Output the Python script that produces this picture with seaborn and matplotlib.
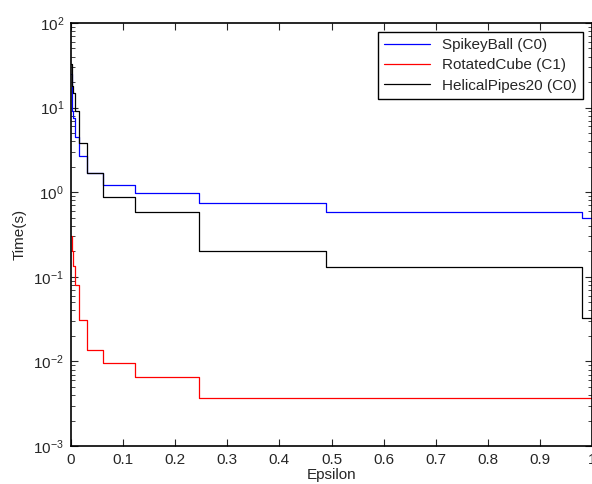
import matplotlib
matplotlib.use("Agg")
import matplotlib.pyplot as plt
import matplotlib.ticker as mticker
import numpy as np
import pandas as pd
import seaborn as sns

# step edges in epsilon (each value holds until the next edge)
eps_edges = [0.0, 0.0019, 0.0038, 0.0077, 0.0153, 0.0306, 0.0613, 0.1225, 0.245, 0.49, 0.98, 1.0]

# time (s) on each interval, last value repeated for the closing edge
spikey_ball = [25, 9, 7.5, 4.5, 2.7, 1.7, 1.22, 0.97, 0.75, 0.59, 0.5, 0.5]
rotated_cube = [0.3, 0.2, 0.135, 0.08, 0.031, 0.0135, 0.0095, 0.0065, 0.0037, 0.0037, 0.0037, 0.0037]
helical_pipes = [33, 18, 15, 9, 3.8, 1.7, 0.88, 0.59, 0.2, 0.13, 0.033, 0.033]

series_names = ["SpikeyBall (C0)", "RotatedCube (C1)", "HelicalPipes20 (C0)"]
series_colors = ["#0000ff", "#ff0000", "#000000"]

x_ticklabels = ['0', '0.1', '0.2', '0.3', '0.4', '0.5', '0.6', '0.7', '0.8', '0.9', '1']

sns.set_style("ticks")
plt.rcParams['font.family'] = ['Liberation Sans', 'DejaVu Sans']
plt.rcParams['mathtext.default'] = 'regular'
plt.rcParams['xtick.direction'] = 'in'
plt.rcParams['ytick.direction'] = 'in'

fig = plt.figure(figsize=(5.92, 4.84), dpi=100)
ax = fig.add_axes([71/592, 38/484, 521/592, 423/484])

for name, vals, col in zip(series_names, [spikey_ball, rotated_cube, helical_pipes], series_colors):
    df = pd.DataFrame({'eps': eps_edges, 'time': vals})
    sns.lineplot(data=df, x='eps', y='time', ax=ax, color=col, label=name,
                 drawstyle='steps-post', linewidth=0.9, estimator=None, sort=False)

ax.set_yscale('log')
ax.set_xlim(0, 1)
ax.set_ylim(1e-3, 1e2)
ax.set_xticks(np.linspace(0, 1, len(x_ticklabels)))
ax.set_xticklabels(x_ticklabels)
ax.yaxis.set_major_locator(mticker.LogLocator(base=10, numticks=10))
ax.yaxis.set_minor_locator(mticker.LogLocator(base=10, subs=np.arange(2, 10), numticks=20))
ax.yaxis.set_minor_formatter(mticker.NullFormatter())

ax.tick_params(axis='both', which='major', direction='in', length=5, width=0.8,
               top=True, right=True, labelsize=11, pad=5)
ax.tick_params(axis='y', which='minor', direction='in', length=3, width=0.6, right=True, left=True)
for s in ax.spines.values():
    s.set_linewidth(1.2)
    s.set_color('black')

ax.set_xlabel('Epsilon', fontsize=11, labelpad=1)
ax.set_ylabel('Time(s)', fontsize=11, labelpad=5)

leg = ax.legend(loc='upper right', fontsize=11, frameon=True, fancybox=False,
                edgecolor='black', framealpha=1, handlelength=3.0, labelspacing=0.4,
                borderaxespad=0.6, borderpad=0.4)
leg.get_frame().set_linewidth(1.0)

fig.savefig('out.png', dpi=100)
